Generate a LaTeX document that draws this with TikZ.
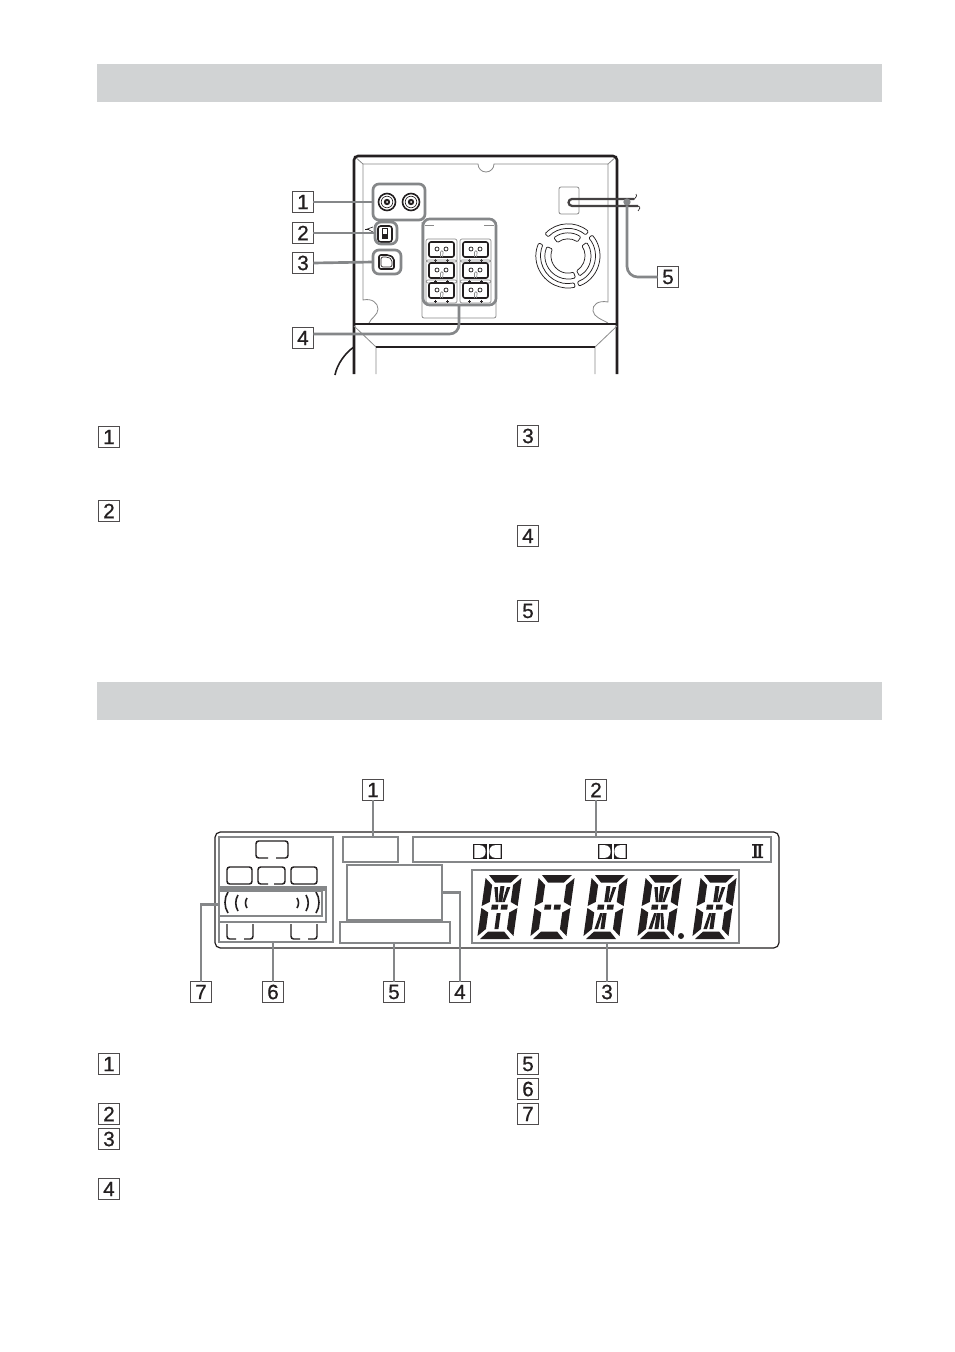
\documentclass[tikz,border=0pt]{standalone}
\usepackage{fontspec}
\setmainfont{Liberation Sans}[FakeBold=0.8]
\usetikzlibrary{calc}
\definecolor{banner}{HTML}{D1D3D4}
\definecolor{hl}{HTML}{858789}
\definecolor{ink}{HTML}{231F20}
\definecolor{fine}{HTML}{8A8A8A}
\tikzset{
  num/.style={draw=ink!80,line width=.9pt,fill=white,minimum size=15.6pt,inner sep=0pt,outer sep=0pt,text=ink,font=\fontsize{15.5}{15.5}\selectfont},
  grp/.style={draw=hl,line width=2pt,inner sep=0pt,outer sep=0pt},
  conn/.style={draw=hl,line width=2pt},
  body/.style={draw=ink,line width=1.9pt},
  bodyt/.style={draw=ink,line width=1.1pt},
  finel/.style={draw=fine,line width=.5pt},
  darkl/.style={draw=ink,line width=.55pt},
  term/.style={draw=ink,line width=1.2pt,rounded corners=1.5pt},
  spk/.style={draw=ink,line width=1.1pt},
  wave/.style={draw=ink,line width=1.2pt},
  seg/.style={fill=ink,draw=none}
}
\newcommand\grpbox[6][]{\node[grp,#1,minimum width={(#5-#3)*0.75pt},minimum height={(#6-#4)*0.75pt}] (#2) at ({(#3+#5)/2},{(#4+#6)/2}) {};}
\newcommand\vent[4]{\draw[darkl,rounded corners=.8pt] ($(fc)+(#1:#3pt)$) arc[start angle=#1,end angle=#2,radius=#3pt] -- ($(fc)+(#2:#4pt)$) arc[start angle=#2,end angle=#1,radius=#4pt] -- cycle;}
\newcommand\terminal[2]{%
  \draw[finel,rounded corners=1.5pt] (#1-3,#2-3) rectangle (#1+28,#2+20);
  \draw[term] (#1,#2) rectangle (#1+25,#2+15);
  \draw[darkl] (#1+8,#2+7) circle[radius=2];
  \draw[darkl] (#1+17,#2+7) circle[radius=2];
  \draw[finel] (#1+11.5,#2+15) -- (#1+11.5,#2+10) arc[start angle=180,end angle=0,radius=1pt] -- (#1+13.5,#2+15);
  \draw[darkl] (#1+5,#2+18) -- (#1+8,#2+18) (#1+6.5,#2+16.5) -- (#1+6.5,#2+19.5);
  \draw[darkl] (#1+17,#2+18) -- (#1+20,#2+18) (#1+18.5,#2+16.5) -- (#1+18.5,#2+19.5);
}
% fourteen-segment digit
\newcommand\sgUL{\fill[seg] (10,12)--(13.5,12)--(16,27)--(13.5,27)--cycle;}
\newcommand\sgUR{\fill[seg] (26,12)--(22.5,12)--(20,27)--(22.5,27)--cycle;}
\newcommand\sgLL{\fill[seg] (10,54)--(13.5,54)--(16,38)--(13.5,38)--cycle;}
\newcommand\sgLR{\fill[seg] (26,54)--(22.5,54)--(20,38)--(22.5,38)--cycle;}
\newcommand\sgUC{\fill[seg] (16,11)--(20,11)--(20,27)--(16,27)--cycle;}
\newcommand\sgLC{\fill[seg] (16,38)--(20,38)--(20,54)--(16,54)--cycle;}
\newcommand\dgt[2]{\begin{scope}[shift={(#1,875)},xslant=.14]
  \fill[seg] (3,0)--(33,0)--(26,7.5)--(10,7.5)--cycle;
  \fill[seg] (3,64)--(33,64)--(26,56.5)--(10,56.5)--cycle;
  \fill[seg] (0,3)--(7.5,10)--(7.5,27)--(0,31)--cycle;
  \fill[seg] (0,33)--(7.5,37.5)--(7.5,54)--(0,61)--cycle;
  \fill[seg] (36,3)--(28.5,10)--(28.5,27)--(36,31)--cycle;
  \fill[seg] (36,33)--(28.5,37.5)--(28.5,54)--(36,61)--cycle;
  \fill[seg] (10,29.5)--(16.5,29.5)--(16.5,34.5)--(10,34.5)--cycle;
  \fill[seg] (19.5,29.5)--(26,29.5)--(26,34.5)--(19.5,34.5)--cycle;
  #2
\end{scope}}
\newcommand\dolby[2]{%
  \fill[ink] (#1,#2) rectangle (#1+13.5,#2+15);
  \fill[white] (#1+1.3,#2+1.2) -- (#1+7,#2+1.2) .. controls (#1+14.5,#2+1.2) and (#1+14.5,#2+13.8) .. (#1+7,#2+13.8) -- (#1+1.3,#2+13.8) -- cycle;
  \fill[ink] (#1+15.5,#2) rectangle (#1+29,#2+15);
  \fill[white] (#1+27.7,#2+1.2) -- (#1+22,#2+1.2) .. controls (#1+14.5,#2+1.2) and (#1+14.5,#2+13.8) .. (#1+22,#2+13.8) -- (#1+27.7,#2+13.8) -- cycle;
}
\begin{document}
\begin{tikzpicture}[x=0.75pt,y=-0.75pt]
\useasboundingbox (0,0) rectangle (954,1352);
\fill[white] (0,0) rectangle (954,1352);
% banners
\node[fill=banner,minimum width=588.75pt,minimum height=28.5pt,inner sep=0pt,outer sep=0pt] (ban1) at (489.5,83) {};
\node[fill=banner,minimum width=588.75pt,minimum height=28.75pt,inner sep=0pt,outer sep=0pt] (ban2) at (489.5,701) {};
% ---- rear panel
\draw[finel,line width=.6pt] (363,164) -- (478,164) arc[start angle=180,end angle=360,radius=6pt] -- (608,164) -- (608,302)
  .. controls (598,300) and (592,305) .. (593,311) .. controls (594,317) and (601,319) .. (608,323);
\draw[finel,line width=.6pt] (363,164) -- (363,300) .. controls (372,298) and (378,303) .. (378,309) .. controls (378,315) and (371,318) .. (369,323);
\draw[finel,line width=.6pt] (354,156) -- (363,164) (617,156) -- (608,164);
\draw[body,rounded corners=3pt] (354,374) -- (354,156) -- (617,156) -- (617,374);
\draw[bodyt] (354,324) -- (617,324);
\draw[finel,line width=.6pt] (354,326) -- (376,347) -- (376,374) (617,326) -- (595,347) -- (595,374);
\draw[bodyt] (376,347) -- (595,347);
\draw[bodyt,line width=1.2pt] (354,347) .. controls (346,352) and (337,364) .. (335,375);
% jacks
\foreach \jx in {387,411}{
  \draw[ink,line width=1.2pt] (\jx,202) circle[radius=8.5];
  \draw[ink,line width=.5pt] (\jx,202) circle[radius=5.8];
  \fill[ink] (\jx,202) circle[radius=3.2];
  \fill[white] (\jx,202) circle[radius=1];
}
% switch
\draw[ink,line width=.5pt] (373,227) -- (366,229.5) (369,229.5) -- (365,229.5) (373,232) -- (369,230);
\draw[ink,line width=1.2pt,rounded corners=2pt] (378,226) rectangle (392,242);
\draw[ink,line width=.6pt] (382,228.5) rectangle (387,238.5);
\fill[ink] (382,233.5) rectangle (387,238.5);
% optical port
\draw[ink,line width=1.2pt,rounded corners=1.5pt] (379,255) -- (389,255) -- (394,258) -- (394,269) -- (379,269) -- cycle;
\draw[ink,line width=.5pt,rounded corners=1.5pt] (381,257) -- (388,257) -- (392,259.5) -- (392,267) -- (381,267) -- cycle;
% speaker terminal block
\draw[finel,line width=.6pt,rounded corners=1.5pt] (422,222) -- (422,318) -- (496,318) -- (496,222);
\draw[finel] (425,225) -- (434,225) (484,225) -- (494,225);
\foreach \tx in {429,463}{
  \terminal{\tx}{242}
  \terminal{\tx}{263}
  \terminal{\tx}{283}
}
% power
\draw[fine,line width=.6pt,rounded corners=1.5pt] (559,187) rectangle (579,214);
\draw[ink!85,line width=1.7pt] (634,199) -- (572,199) arc[start angle=90,end angle=270,radius=2.6pt] -- (638,206);
\draw[ink,line width=.5pt] (636,194) .. controls (638,197) and (634,198) .. (634,199.5);
\draw[ink,line width=.5pt] (638,206) .. controls (641,207) and (640,209) .. (638,211);
\node[circle,fill=hl,minimum size=5.5pt,inner sep=0pt,outer sep=0pt] (dot5) at (627,202) {};
% fan
\coordinate (fc) at (568,256);
\vent{50}{136}{24}{20.6}
\vent{56}{128}{17.25}{12.75}
\vent{156}{283}{24}{20.6}
\vent{156}{289}{17.25}{12.75}
\vent{-70}{41}{24}{20.6}
\vent{-60}{36}{17.25}{12.75}
% highlights
\grpbox[rounded corners=4.5pt]{g1}{373}{184}{425}{220}
\grpbox[rounded corners=4.5pt]{g2}{375}{222}{397}{244}
\grpbox[rounded corners=4.5pt]{g3}{373}{250}{401}{274}
\grpbox[rounded corners=5pt]{g4}{423}{219}{496}{305}
\node[num] (t1) at (303,202) {1};
\node[num] (t2) at (303,233) {2};
\node[num] (t3) at (303,263) {3};
\node[num] (t4) at (303,338) {4};
\node[num] (t5) at (668,277) {5};
\draw[conn] (t1.east) -- (g1.west);
\draw[conn] (t2.east) -- (g2.west);
\draw[conn] (t3.east) -- (g3.west);
\draw[conn,rounded corners=7pt] (g4.south) ++(-0.5,0) |- ([yshift=3pt]t4.east);
\draw[conn,rounded corners=8pt] (dot5) |- (t5.west);
% list markers, upper
\node[num] (a1) at (109,437) {1};
\node[num] (a2) at (109,511) {2};
\node[num] (a3) at (528,436) {3};
\node[num] (a4) at (528,536) {4};
\node[num] (a5) at (528,611) {5};
% ---- display
\draw[ink,line width=.9pt,rounded corners=4pt] (215,832) rectangle (779,948);
% speaker icons
\draw[spk,rounded corners=2pt] (268,858) -- (256,858) -- (256,841) -- (288,841) -- (288,858) -- (276,858);
\draw[spk,rounded corners=2pt] (227,867) rectangle (252,884);
\draw[spk,rounded corners=2pt] (268,884) -- (258,884) -- (258,867) -- (285,867) -- (285,884) -- (274,884);
\draw[spk,rounded corners=2pt] (291,867) rectangle (317,884);
\draw[spk,rounded corners=2pt] (227,924) -- (227,939) -- (236,939) (244,939) -- (253,939) -- (253,924);
\draw[spk,rounded corners=2pt] (291,924) -- (291,939) -- (300,939) (308,939) -- (317,939) -- (317,924);
% waves
\draw[wave] (228,892) .. controls (224,898) and (224,907) .. (228,913);
\draw[wave] (238,895) .. controls (235,900) and (235,906) .. (238,911);
\draw[wave] (247,898) .. controls (245,901) and (245,905) .. (247,908);
\draw[wave] (316,892) .. controls (320,898) and (320,907) .. (316,913);
\draw[wave] (306,895) .. controls (309,900) and (309,906) .. (306,911);
\draw[wave] (297,898) .. controls (299,901) and (299,905) .. (297,908);
% dolby
\dolby{473}{844}
\dolby{598}{844}
\fill[ink] (752,844) rectangle (763,845.5) (752,856.5) rectangle (763,858) (754,845) rectangle (756.5,857) (758.5,845) rectangle (761,857);
% digits
\dgt{486}{\sgUL\sgUC\sgUR\sgLC}
\dgt{539}{}
\dgt{592}{\sgUC\sgUR\sgLL\sgLC}
\dgt{646}{\sgUL\sgUC\sgUR\sgLL\sgLC\sgLR}
\dgt{701}{\sgUC\sgUR\sgLL\sgLC}
\fill[ink] (681,936) circle[radius=3];
% display highlights
\grpbox{d6}{219}{837}{333}{942}
\grpbox{d7}{219}{887}{326}{922}
\grpbox{d7b}{219}{891}{322}{916}
\fill[hl] (219,887) rectangle (326,891);
\grpbox{d1}{343}{837}{398}{862}
\grpbox{d2}{413}{837}{771}{862}
\grpbox{d3}{472}{870}{739}{943}
\grpbox{d4}{347}{865}{442}{920}
\grpbox{d5}{340}{922}{450}{943}
\node[num] (b1) at (373,790) {1};
\node[num] (b2) at (596,790) {2};
\node[num] (b3) at (607,992) {3};
\node[num] (b4) at (460,992) {4};
\node[num] (b5) at (394,992) {5};
\node[num] (b6) at (273,992) {6};
\node[num] (b7) at (201,992) {7};
\draw[conn] (b1.south) -- (b1.south |- d1.north);
\draw[conn] (b2.south) -- (b2.south |- d2.north);
\draw[conn] (b3.north) -- (b3.north |- d3.south);
\draw[conn] (b4.north) |- (d4.east);
\draw[conn] (b5.north) -- (b5.north |- d5.south);
\draw[conn] (b6.north) -- (b6.north |- d6.south);
\draw[conn] (b7.north) |- (d7.west);
% list markers, lower
\node[num] (c1) at (109,1064) {1};
\node[num] (c2) at (109,1114) {2};
\node[num] (c3) at (109,1139) {3};
\node[num] (c4) at (109,1189) {4};
\node[num] (c5) at (528,1064) {5};
\node[num] (c6) at (528,1089) {6};
\node[num] (c7) at (528,1114) {7};
\end{tikzpicture}
\end{document}
